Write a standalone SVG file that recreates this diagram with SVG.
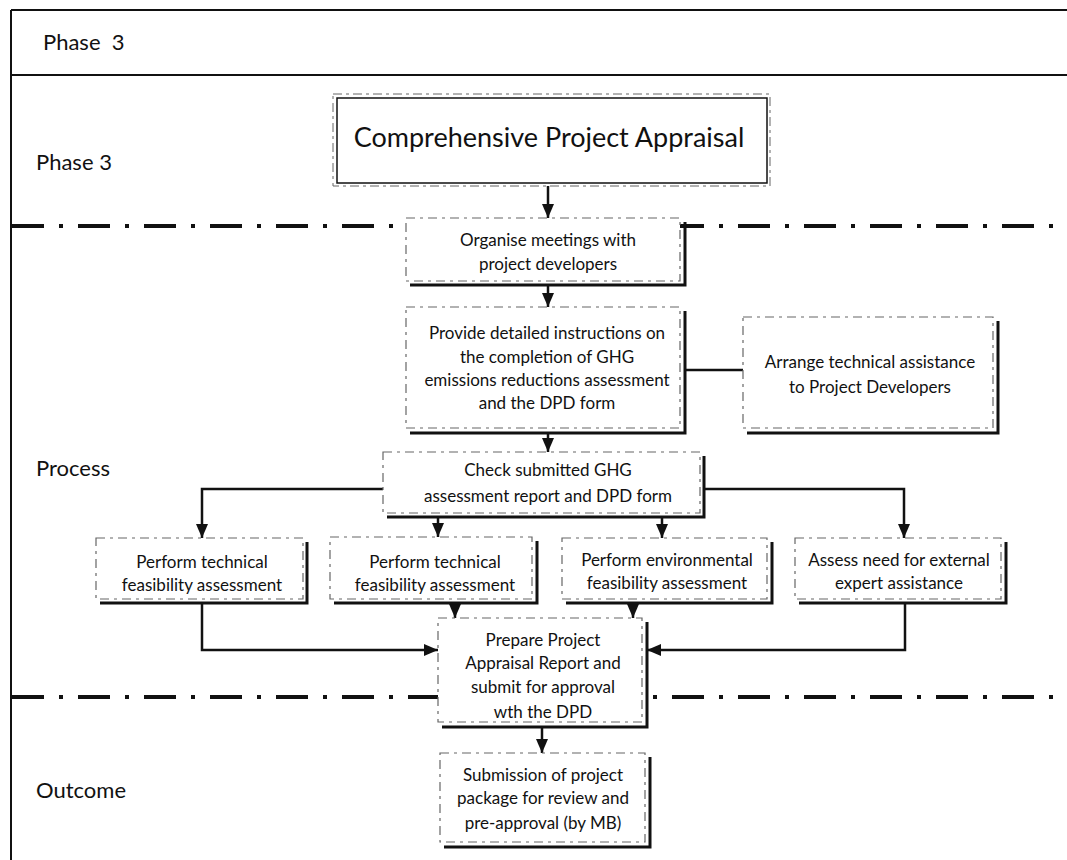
<svg xmlns="http://www.w3.org/2000/svg" width="1067" height="860" viewBox="0 0 1067 860">
<style>
.frame{stroke:#111;stroke-width:2;fill:none}
.dd{stroke:#111;stroke-width:4;fill:none;stroke-dasharray:32 15 4 15}
.box{fill:#fff;stroke:#666;stroke-width:1.2;stroke-dasharray:9 5 3 5}
.sh{fill:none;stroke:#111;stroke-width:3}
.c{fill:none;stroke:#111;stroke-width:2.5}
.t{font-family:Lato,"Liberation Sans",sans-serif;font-size:17px;text-anchor:middle;fill:#111}
.lbl{font-family:Lato,"Liberation Sans",sans-serif;font-size:22px;fill:#111}
</style>
<defs>
<marker id="ah" markerWidth="14" markerHeight="12" refX="14" refY="6" orient="auto" markerUnits="userSpaceOnUse"><path d="M0,0 L14,6 L0,12 z" fill="#111"/></marker>
</defs>
<rect x="0" y="0" width="1067" height="860" fill="#fff"/>
<g id="frame">
<path class="frame" d="M11 10 H1067 M11 75 H1067 M11 10 V860"/>
<text class="lbl" x="43" y="50" font-size="23" xml:space="preserve">Phase  3</text>
<text class="lbl" x="36" y="170">Phase 3</text>
<text class="lbl" x="36" y="476">Process</text>
<text class="lbl" x="36" y="798">Outcome</text>
<path class="dd" d="M12 226 H1067"/>
<path class="dd" d="M12 697 H1067"/>
</g>
<g id="connectors">
<path class="c" d="M548 183 V218" marker-end="url(#ah)"/>
<path class="c" d="M548 285 V307" marker-end="url(#ah)"/>
<path class="c" d="M548 433 V452" marker-end="url(#ah)"/>
<path class="c" d="M685 370 H743"/>
<path class="c" d="M383 489 H202 V538" marker-end="url(#ah)"/>
<path class="c" d="M438 517 V537" marker-end="url(#ah)"/>
<path class="c" d="M662 517 V538" marker-end="url(#ah)"/>
<path class="c" d="M704 489 H904 V538" marker-end="url(#ah)"/>
<path class="c" d="M202 603 V650 H438" marker-end="url(#ah)"/>
<path class="c" d="M455 603 V618" marker-end="url(#ah)"/>
<path class="c" d="M633 603 V618" marker-end="url(#ah)"/>
<path class="c" d="M905 603 V650 H647" marker-end="url(#ah)"/>
<path class="c" d="M542 727 V753" marker-end="url(#ah)"/>
</g>
<g id="comprehensive">
<rect x="333" y="94" width="437" height="92" fill="#fff" stroke="#666" stroke-width="1" stroke-dasharray="9 4 3 4"/>
<rect x="337" y="98" width="430" height="85" fill="#fff" stroke="#111" stroke-width="1.5"/>
<text x="549" y="147" font-family="Lato,'Liberation Sans',sans-serif" font-size="27" text-anchor="middle" fill="#111">Comprehensive Project Appraisal</text>
</g>
<g id="organise">
<rect class="box" x="406" y="218" width="274" height="63"/>
<path class="sh" d="M685 222 V285 H410"/>
<text class="t" x="548" y="246">Organise meetings with</text>
<text class="t" x="548" y="270">project developers</text>
</g>
<g id="provide">
<rect class="box" x="406" y="307" width="274" height="121"/>
<path class="sh" d="M685 311 V433 H410"/>
<text class="t" x="547" y="339">Provide detailed instructions on</text>
<text class="t" x="547" y="363">the completion of GHG</text>
<text class="t" x="547" y="386">emissions reductions assessment</text>
<text class="t" x="547" y="409">and the DPD form</text>
</g>
<g id="arrange">
<rect class="box" x="743" y="317" width="250" height="111"/>
<path class="sh" d="M998 321 V433 H747"/>
<text class="t" x="870" y="368">Arrange technical assistance</text>
<text class="t" x="870" y="393">to Project Developers</text>
</g>
<g id="check">
<rect class="box" x="383" y="452" width="317" height="61"/>
<path class="sh" d="M704 456 V517 H387"/>
<text class="t" x="548" y="476">Check submitted GHG</text>
<text class="t" x="548" y="502">assessment report and DPD form</text>
</g>
<g id="tech1">
<rect class="box" x="96" y="538" width="207" height="61"/>
<path class="sh" d="M307 542 V603 H100"/>
<text class="t" x="202" y="568">Perform technical</text>
<text class="t" x="202" y="591">feasibility assessment</text>
</g>
<g id="tech2">
<rect class="box" x="330" y="537" width="202" height="62"/>
<path class="sh" d="M537 541 V603 H334"/>
<text class="t" x="435" y="568">Perform technical</text>
<text class="t" x="435" y="591">feasibility assessment</text>
</g>
<g id="env">
<rect class="box" x="562" y="538" width="205" height="61"/>
<path class="sh" d="M772 542 V603 H566"/>
<text class="t" x="667" y="566">Perform environmental</text>
<text class="t" x="667" y="589">feasibility assessment</text>
</g>
<g id="assess">
<rect class="box" x="795" y="538" width="206" height="61"/>
<path class="sh" d="M1006 542 V603 H799"/>
<text class="t" x="899" y="566">Assess need for external</text>
<text class="t" x="899" y="589">expert assistance</text>
</g>
<g id="prepare">
<rect class="box" x="438" y="618" width="204" height="104"/>
<path class="sh" d="M647 622 V727 H442"/>
<text class="t" x="543" y="646">Prepare Project</text>
<text class="t" x="543" y="669">Appraisal Report and</text>
<text class="t" x="543" y="693">submit for approval</text>
<text class="t" x="543" y="718">wth the DPD</text>
</g>
<g id="submission">
<rect class="box" x="440" y="753" width="205" height="89"/>
<path class="sh" d="M650 757 V847 H444"/>
<text class="t" x="543" y="781">Submission of project</text>
<text class="t" x="543" y="804">package for review and</text>
<text class="t" x="543" y="829">pre-approval (by MB)</text>
</g>
</svg>
